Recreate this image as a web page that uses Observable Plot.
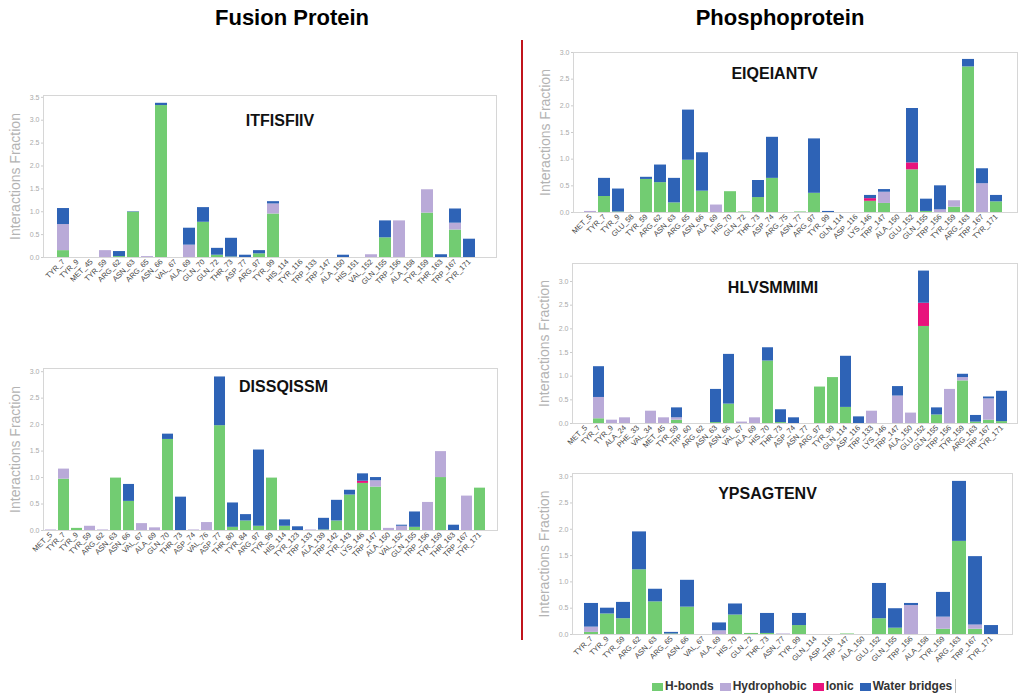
<!DOCTYPE html>
<html><head><meta charset="utf-8">
<script src="https://cdn.jsdelivr.net/npm/d3@7"></script>
<script src="https://cdn.jsdelivr.net/npm/@observablehq/plot@0.6"></script>
<style>
body{margin:0;width:1018px;height:694px;overflow:hidden;background:#fff;font-family:"Liberation Sans",Arial,sans-serif;position:relative}
.abs{position:absolute}
.hdr{font-weight:bold;font-size:22px;color:#000;text-align:center;width:300px}
.legend{font-size:12px;color:#333;font-weight:bold;display:flex;gap:6px;align-items:center;border-right:1px solid #bbb;padding-right:3px;line-height:14px}
.sw{display:inline-block;width:11px;height:8px;margin-right:2px;vertical-align:middle}
</style></head><body>
<script>
const types = ["H-bonds", "Hydrophobic", "Ionic", "Water bridges"];
const colors = ["#72cc72", "#b9aad8", "#e8137c", "#2e63b6"];

// ---- Fusion Protein: ITFISFIIV ----
const p1Res = ["TYR_7","TYR_9","MET_45","TYR_59","ARG_62","ASN_63","ARG_65","ASN_66","VAL_67","ALA_69","GLN_70","GLN_72","THR_73","ASP_77","ARG_97","TYR_99","HIS_114","TYR_116","TRP_133","TRP_147","ALA_150","HIS_151","VAL_152","GLN_155","TRP_156","ALA_158","TYR_159","THR_163","TRP_167","TYR_171"];
const p1HB = [0.15,0,0,0,0.02,0.99,0,3.32,0,0,0.77,0.05,0.01,0,0.08,0.95,0,0,0,0,0,0,0,0.43,0,0,0.97,0,0.60,0];
const p1HY = [0.57,0,0,0.15,0,0,0.02,0,0,0.27,0,0,0,0,0,0.22,0,0,0,0,0,0,0.06,0,0.80,0,0.51,0,0.15,0];
const p1IO = [0,0,0,0,0,0,0,0,0,0,0,0,0,0,0,0,0,0,0,0,0,0,0,0,0,0,0,0,0,0];
const p1WB = [0.35,0,0,0,0.11,0.01,0,0.05,0,0.37,0.32,0.15,0.41,0.05,0.07,0.05,0,0,0,0,0.05,0,0,0.37,0,0,0,0.06,0.31,0.40];

// ---- Fusion Protein: DISSQISSM ----
const p2Res = ["MET_5","TYR_7","TYR_9","TYR_59","ARG_62","ASN_63","ASN_66","VAL_67","ALA_69","GLN_70","THR_73","ASP_74","VAL_76","ASP_77","THR_80","TYR_84","ARG_97","TYR_99","HIS_114","TYR_123","TRP_133","ALA_139","TRP_142","TYR_143","LYS_146","TRP_147","ALA_150","VAL_152","GLN_155","TRP_156","TYR_159","THR_163","TRP_167","TYR_171"];
const p2HB = [0,0.97,0.04,0,0,0.99,0.55,0,0,1.72,0,0,0,1.98,0.06,0.18,0.08,0.99,0.08,0,0,0.01,0.18,0.67,0.89,0.82,0,0,0.06,0,1.00,0,0,0.80];
const p2HY = [0.01,0.19,0,0.08,0.01,0,0,0.13,0.05,0,0,0.01,0.15,0,0,0,0,0,0,0,0.01,0,0,0,0,0.12,0.04,0.08,0,0.53,0.49,0,0.65,0];
const p2IO = [0,0,0,0,0,0,0,0,0,0,0,0,0,0,0,0,0,0,0,0,0,0,0,0,0.04,0,0,0,0,0,0,0,0,0];
const p2WB = [0,0,0,0,0,0,0.32,0,0,0.10,0.63,0,0,0.92,0.46,0.12,1.44,0,0.12,0.07,0,0.22,0.39,0.09,0.14,0.06,0,0.02,0.29,0,0,0.10,0,0];

// ---- Phosphoprotein: EIQEIANTV ----
const p3Res = ["MET_5","TYR_7","TYR_9","GLU_58","TYR_59","ARG_62","ASN_63","ARG_65","ASN_66","ALA_69","HIS_70","GLN_72","THR_73","ASP_74","ARG_75","ASN_77","ARG_97","TYR_99","GLN_114","ASP_116","LYS_146","TRP_147","ALA_150","GLU_152","GLN_155","TRP_156","TYR_159","ARG_163","TRP_167","TYR_171"];
const p3HB = [0,0.30,0.01,0,0.62,0.56,0.18,0.98,0.40,0,0.39,0.01,0.28,0.64,0,0.01,0.36,0,0,0,0.21,0.17,0,0.80,0.02,0,0.10,2.73,0,0.20];
const p3HY = [0.02,0,0,0,0,0,0,0,0,0.14,0,0,0,0,0,0,0,0,0,0,0,0.21,0,0,0,0.05,0.12,0,0.54,0];
const p3IO = [0,0,0,0,0,0,0,0,0,0,0,0,0,0,0,0,0,0,0,0,0.05,0,0,0.13,0,0,0,0,0,0];
const p3WB = [0,0.34,0.43,0,0.04,0.33,0.46,0.94,0.72,0,0,0,0.32,0.77,0,0,1.02,0.02,0,0,0.06,0.05,0,1.02,0.23,0.45,0,0.14,0.28,0.12];

// ---- Phosphoprotein: HLVSMMIMI ----
const p4Res = ["MET_5","TYR_7","TYR_9","ALA_24","PHE_33","VAL_34","MET_45","TYR_59","TRP_60","ARG_62","ASN_63","ASN_66","VAL_67","ALA_69","HIS_70","THR_73","ASP_74","ASN_77","ARG_97","TYR_99","GLN_114","ASP_116","TRP_133","LYS_146","TRP_147","ALA_150","GLU_152","GLN_155","TRP_156","TYR_159","ARG_163","TRP_167","TYR_171"];
const p4HB = [0,0.10,0,0,0,0,0,0.07,0,0,0.02,0.41,0,0,1.32,0.02,0,0,0.77,0.97,0.34,0,0,0,0,0,2.05,0.18,0,0.90,0.03,0.07,0.04];
const p4HY = [0,0.45,0.07,0.12,0,0.26,0.12,0.05,0,0,0,0,0.03,0.12,0,0,0,0,0,0,0,0,0.26,0,0.58,0.22,0,0,0.72,0.07,0,0.45,0];
const p4IO = [0,0,0,0,0,0,0,0,0,0,0,0,0,0,0,0,0,0,0,0,0,0,0,0,0,0,0.49,0,0,0,0,0,0];
const p4WB = [0,0.65,0,0,0,0,0,0.21,0,0,0.70,1.05,0,0,0.28,0.27,0.12,0,0,0,1.08,0.14,0,0,0.20,0,0.68,0.15,0,0.07,0.14,0.04,0.64];

// ---- Phosphoprotein: YPSAGTENV ----
const p5Res = ["TYR_7","TYR_9","TYR_59","ARG_62","ASN_63","ARG_65","ASN_66","VAL_67","ALA_69","HIS_70","GLN_72","THR_73","ASN_77","TYR_99","GLN_114","ASP_116","TRP_147","ALA_150","GLU_152","GLN_155","TRP_156","ALA_158","TYR_159","ARG_163","TRP_167","TYR_171"];
const p5HB = [0.04,0.39,0.30,1.23,0.62,0.01,0.52,0,0,0.37,0.02,0.02,0,0.17,0,0,0.01,0,0.30,0.12,0,0,0.10,1.77,0.10,0];
const p5HY = [0.10,0,0,0,0,0,0,0,0.07,0,0,0,0.01,0,0,0,0,0,0,0,0.55,0,0.23,0,0.08,0];
const p5IO = [0,0,0,0,0,0,0,0,0,0,0,0,0,0,0,0,0,0,0,0,0,0,0,0,0,0];
const p5WB = [0.45,0.11,0.31,0.72,0.24,0.03,0.51,0,0.15,0.21,0,0.38,0,0.23,0,0,0,0,0.67,0.37,0.04,0,0.47,1.14,1.30,0.17];

const yTicks35 = [0,0.5,1,1.5,2,2.5,3,3.5];
const yTicks30 = [0,0.5,1,1.5,2,2.5,3];

const panels = [
  {title:"ITFISFIIV", res:p1Res, vals:[p1HB,p1HY,p1IO,p1WB], left:0, top:85, width:500, height:215, ml:43, mr:4, mt:10, mb:43, il:1.5, ir:8.5, ymax:3.54, ticks:yTicks35, tdx:10, tdy:25},
  {title:"DISSQISSM", res:p2Res, vals:[p2HB,p2HY,p2IO,p2WB], left:0, top:358, width:500, height:217, ml:43, mr:3, mt:10, mb:45, il:0, ir:9, ymax:3.06, ticks:yTicks30, tdx:13, tdy:18},
  {title:"EIQEIANTV", res:p3Res, vals:[p3HB,p3HY,p3IO,p3WB], left:530, top:42, width:488, height:215, ml:43, mr:1, mt:10, mb:45, il:0.3, ir:5.3, ymax:3.0, ticks:yTicks30, tdx:-21, tdy:21},
  {title:"HLVSMMIMI", res:p4Res, vals:[p4HB,p4HY,p4IO,p4WB], left:530, top:253, width:488, height:215, ml:42, mr:1, mt:10, mb:45, il:2, ir:3.4, ymax:3.38, ticks:yTicks30, tdx:-22, tdy:24},
  {title:"YPSAGTENV", res:p5Res, vals:[p5HB,p5HY,p5IO,p5WB], left:530, top:463, width:488, height:211, ml:42, mr:6, mt:10, mb:40, il:1.8, ir:4.2, ymax:3.06, ticks:yTicks30, tdx:-25, tdy:20}
];

function addDiv(cls, style, html) {
  const d = document.createElement("div");
  d.className = cls;
  Object.assign(d.style, style);
  if (html != null) d.innerHTML = html;
  document.body.appendChild(d);
  return d;
}

panels.forEach(cfg => {
  const data = [];
  cfg.res.forEach((r, i) => types.forEach((t, j) => data.push({res: r, type: t, value: cfg.vals[j][i]})));
  const chart = Plot.plot({
    width: cfg.width, height: cfg.height,
    marginLeft: cfg.ml, marginRight: cfg.mr, marginTop: cfg.mt, marginBottom: cfg.mb,
    style: {fontFamily: "Liberation Sans, Arial, sans-serif", background: "transparent", overflow: "visible"},
    x: {domain: cfg.res, padding: 0.15, insetLeft: cfg.il, insetRight: cfg.ir, label: null},
    y: {domain: [0, cfg.ymax], label: null},
    color: {domain: types, range: colors},
    marks: [
      Plot.frame({stroke: "#d6d6d6"}),
      Plot.barY(data, {x: "res", y: "value", fill: "type"}),
      Plot.axisX({tickRotate: -45, tickSize: 0, tickPadding: 3, fontSize: 7.5, fill: "#444", label: null}),
      Plot.axisY({ticks: cfg.ticks, tickFormat: d3.format(".1f"), tickSize: 2, tickPadding: 2, fontSize: 7, fill: "#aaa", stroke: "#ccc", label: null}),
      Plot.text([cfg.title], {frameAnchor: "top", dx: cfg.tdx, dy: cfg.tdy, lineAnchor: "middle", fontSize: 16, fontWeight: "bold", fill: "#111"}),
      Plot.text(["Interactions Fraction"], {frameAnchor: "left", dx: -28, rotate: -90, textAnchor: "middle", lineAnchor: "middle", fontSize: 14, fill: "#b3b3b3"})
    ]
  });
  const wrap = addDiv("abs", {left: cfg.left + "px", top: cfg.top + "px"});
  wrap.appendChild(chart);
});

// headers
addDiv("abs hdr", {left: "142px", top: "5px"}, "Fusion Protein");
addDiv("abs hdr", {left: "630px", top: "5px"}, "Phosphoprotein");
// divider
addDiv("abs", {left: "521px", top: "40px", width: "2px", height: "600px", background: "#c0141c"});
// legend
const leg = addDiv("abs legend", {left: "652px", top: "679px"});
leg.innerHTML = types.map((t, i) => `<span><span class="sw" style="background:${colors[i]}"></span>${t}</span>`).join("");
</script>
</body></html>
